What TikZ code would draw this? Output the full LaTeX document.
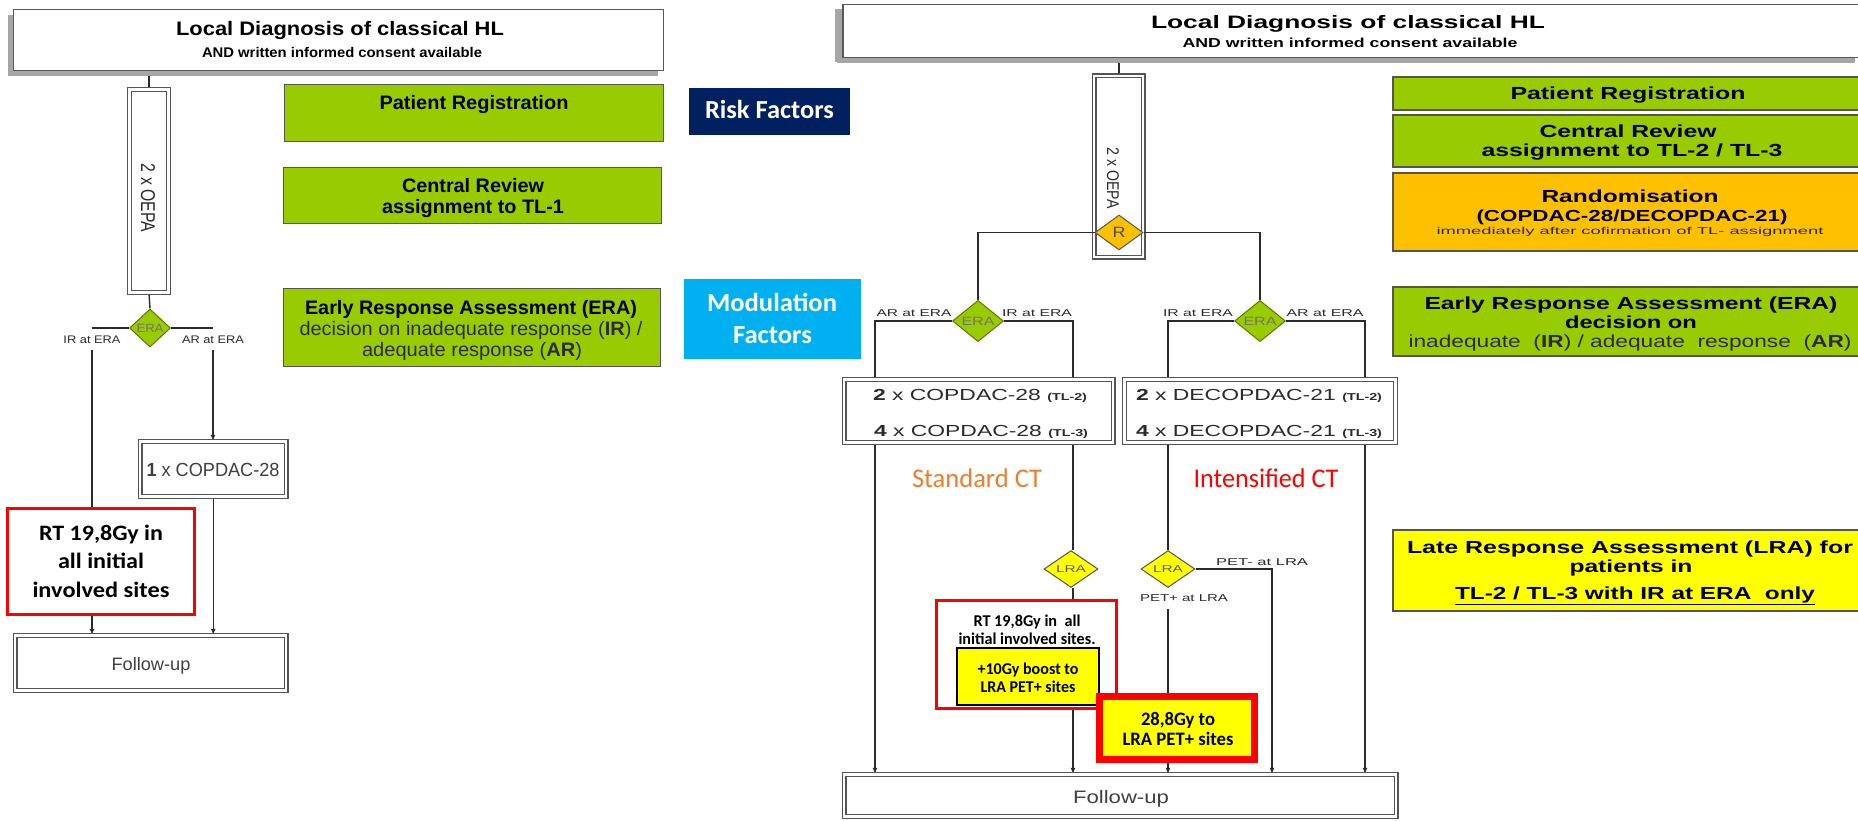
\documentclass[tikz,border=0pt]{standalone}
\usepackage{fontspec}
\setmainfont{Liberation Sans}
\newfontfamily\calib{Carlito}
\usepackage{graphicx}
\usetikzlibrary{shapes.geometric,arrows.meta,shadows}
\pgfdeclarelayer{paper}
\pgfdeclarelayer{background}
\pgfsetlayers{paper,background,main}

\definecolor{leaf}{HTML}{99CC00}
\definecolor{leafdark}{HTML}{5C7A00}
\definecolor{amber}{HTML}{FFC000}
\definecolor{lemon}{HTML}{FFFF00}
\definecolor{navy}{HTML}{002060}
\definecolor{sky}{HTML}{00B0F0}
\definecolor{tang}{HTML}{ED7D31}
\definecolor{ink}{HTML}{2B2B2B}
\definecolor{frame}{HTML}{555555}
\definecolor{softtxt}{HTML}{404040}

% set a line of text and stretch it horizontally to a given width (in pt)
\newsavebox\fitbox
\newcommand\fitw[2]{\sbox\fitbox{#2}\pgfmathsetmacro\fitf{#1/\the\wd\fitbox}\scalebox{\fitf}[1]{\usebox\fitbox}}
\newcommand\fsz[1]{\fontsize{#1}{#1}\selectfont}

\tikzset{
  lbl/.style={inner sep=0pt, anchor=base},
  hdr/.style={draw=gray!70!black, line width=1.6pt, fill=white,
    general shadow={fill=gray!70, shadow xshift=-6pt, shadow yshift=-6pt}},
  grn/.style={draw=frame, line width=1.4pt, fill=leaf, inner sep=0pt},
  ylw/.style={draw=frame, line width=1.4pt, fill=lemon, inner sep=0pt},
  amb/.style={draw=frame, line width=1.4pt, fill=amber, inner sep=0pt},
  dbl/.style={draw=frame, line width=1.3pt, double=white, double distance=2.4pt, fill=white, inner sep=0pt},
  redbox/.style={draw=red, line width=3pt, fill=white, inner sep=0pt},
  flag/.style={inner sep=0pt},
  dia/.style={diamond, inner sep=0pt, line width=1pt},
  ln/.style={draw=ink, line width=1.4pt},
  arr/.style={ln, -{Latex[length=6pt,width=5pt]}},
}

\begin{document}
\begin{tikzpicture}[x=1pt,y=-1pt]
\useasboundingbox (0,0) rectangle (1858,821);
\begin{pgfonlayer}{paper}
  \fill[white] (0,0) rectangle (1858,821);
\end{pgfonlayer}

% ---------------- TL-1 flow (left) ----------------
\node[hdr, minimum width=650pt, minimum height=61pt] (topL) at (338.5,40) {};
\node[lbl] (tHL1) at (340,36) {\fitw{328}{\fsz{19.5}\bfseries Local Diagnosis of classical HL}};
\node[lbl] (tHL2) at (342,58) {\fitw{280}{\fsz{14}\bfseries AND written informed consent available}};

\node[grn, minimum width=379pt, minimum height=57pt] (prL) at (474,113) {};
\node[lbl] (tPRL) at (474,110) {\fitw{189}{\fsz{19.5}\bfseries Patient Registration}};
\node[grn, minimum width=378pt, minimum height=56pt] (crL) at (472.5,195.5) {};
\node[lbl] (tCRL1) at (473,193) {\fitw{142}{\fsz{19.5}\bfseries Central Review}};
\node[lbl] (tCRL2) at (473,214) {\fitw{182}{\fsz{19.5}\bfseries assignment to TL-1}};
\node[grn, minimum width=377pt, minimum height=78pt] (eraLb) at (472,327.5) {};
\node[lbl] (tERL1) at (471,314) {\fitw{332}{\fsz{19.5}\bfseries Early Response Assessment (ERA)}};
\node[lbl, text=ink] (tERL2) at (471,335) {\fitw{343}{\fsz{19.5}decision on inadequate response (\textbf{IR}) /}};
\node[lbl, text=ink] (tERL3) at (472,356) {\fitw{220}{\fsz{19.5}adequate response (\textbf{AR})}};

\node[dbl, minimum width=39pt, minimum height=203pt] (oepaL) at (149,191) {};
\node[inner sep=0pt, rotate=-90, text=ink] (tOL) at (148,198) {\fitw{68}{\fsz{20}2 x OEPA}};

\node[dia, fill=leaf, draw=leafdark, minimum width=41pt, minimum height=38pt] (eraLd) at (150,328)
  {\fitw{27}{\fsz{12}\color{black!55}ERA}};
\node[lbl, text=ink] (irL) at (92,343) {\fitw{57}{\fsz{11}IR at ERA}};
\node[lbl, text=ink] (arL) at (213,343) {\fitw{62}{\fsz{11}AR at ERA}};

\node[dbl, minimum width=146pt, minimum height=55pt] (copL) at (213.25,469) {};
\node[lbl, text=softtxt] (tCopL) at (213,476) {\fitw{133}{\fsz{19}\textbf{1} x COPDAC-28}};

\node[redbox, minimum width=187pt, minimum height=106pt] (rtL) at (101,561.5) {};
\node[lbl] (tRtL1) at (101,540) {\fitw{124}{\calib\fsz{22}\bfseries RT 19,8Gy in}};
\node[lbl] (tRtL2) at (101,568) {\fitw{86}{\calib\fsz{22}\bfseries all initial}};
\node[lbl] (tRtL3) at (101,597) {\fitw{137}{\calib\fsz{22}\bfseries involved sites}};

\node[dbl, minimum width=271pt, minimum height=55pt] (fuL) at (150.75,663) {};
\node[lbl, text=softtxt] (tFuL) at (151,670.5) {\fitw{79}{\fsz{18}Follow-up}};

% ---------------- side flags ----------------
\node[flag, fill=navy, minimum width=161pt, minimum height=47pt] (risk) at (769.5,111.5) {};
\node[lbl, text=white] (tRisk) at (769.5,119) {\fitw{129}{\calib\fsz{26}\bfseries Risk Factors}};
\node[flag, fill=sky, minimum width=177pt, minimum height=80pt] (modul) at (772.5,319) {};
\node[lbl, text=white] (tMod1) at (772,311) {\fitw{130}{\calib\fsz{26}\bfseries Modulation}};
\node[lbl, text=white] (tMod2) at (772.5,343) {\fitw{79}{\calib\fsz{26}\bfseries Factors}};

% ---------------- TL-2 / TL-3 flow (right) ----------------
\node[hdr, minimum width=1018pt, minimum height=53pt, general shadow={fill=gray!70, shadow xshift=-8pt, shadow yshift=-5pt}] (topR) at (1352,31) {};
\node[lbl] (tHR1) at (1348,28.5) {\fitw{394}{\fsz{18}\bfseries Local Diagnosis of classical HL}};
\node[lbl] (tHR2) at (1350,47.5) {\fitw{335}{\fsz{13}\bfseries AND written informed consent available}};

\node[dbl, minimum width=49pt, minimum height=181pt] (oepaR) at (1118.5,166.5) {};
\node[inner sep=0pt, rotate=-90, text=ink] (tOR) at (1113,178) {\fitw{61}{\fsz{17}2 x OEPA}};
\node[dia, fill=amber, draw=frame, minimum width=48pt, minimum height=35pt] (rnd) at (1119,232.5)
  {\fitw{13}{\fsz{15}\color{black!70}R}};

\node[dia, fill=leaf, draw=leafdark, minimum width=51pt, minimum height=32pt] (eraDL) at (978,321)
  {\fitw{33}{\fsz{12}\color{black!55}ERA}};
\node[dia, fill=leaf, draw=leafdark, minimum width=51pt, minimum height=32pt] (eraDR) at (1260,321)
  {\fitw{33}{\fsz{12}\color{black!55}ERA}};
\node[lbl, text=ink] (arA) at (914,316.7) {\fitw{75}{\fsz{10}AR at ERA}};
\node[lbl, text=ink] (irA) at (1037,316.7) {\fitw{70}{\fsz{10}IR at ERA}};
\node[lbl, text=ink] (irB) at (1198,316.7) {\fitw{70}{\fsz{10}IR at ERA}};
\node[lbl, text=ink] (arB) at (1325,316.7) {\fitw{77}{\fsz{10}AR at ERA}};

\node[dbl, minimum width=269pt, minimum height=63pt] (cop) at (978.5,411) {};
\node[lbl, text=ink] (tC1) at (980,400) {\fitw{214}{\fsz{16}\textbf{2} x COPDAC-28 {\fsz{10}\bfseries (TL-2)}}};
\node[lbl, text=ink] (tC2) at (981,436.5) {\fitw{214}{\fsz{16}\textbf{4} x COPDAC-28 {\fsz{10}\bfseries (TL-3)}}};
\node[dbl, minimum width=271pt, minimum height=63pt] (decop) at (1260,411) {};
\node[lbl, text=ink] (tD1) at (1259,400) {\fitw{246}{\fsz{16}\textbf{2} x DECOPDAC-21 {\fsz{10}\bfseries (TL-2)}}};
\node[lbl, text=ink] (tD2) at (1259,436.5) {\fitw{246}{\fsz{16}\textbf{4} x DECOPDAC-21 {\fsz{10}\bfseries (TL-3)}}};

\node[lbl, text=tang] (tStd) at (977,487) {\fitw{130}{\calib\fsz{27}Standard CT}};
\node[lbl, text=red] (tInt) at (1266,487) {\fitw{145}{\calib\fsz{27}Intensified CT}};

\node[dia, fill=lemon, draw=frame, minimum width=54pt, minimum height=29pt] (lraDL) at (1071,569)
  {\fitw{30}{\fsz{10}\color{black!65}LRA}};
\node[dia, fill=lemon, draw=frame, minimum width=54pt, minimum height=29pt] (lraDR) at (1168,569)
  {\fitw{30}{\fsz{10}\color{black!65}LRA}};
\node[lbl, text=ink] (petM) at (1262,565) {\fitw{92}{\fsz{10}PET- at LRA}};
\node[lbl, text=ink] (petP) at (1184,601.5) {\fitw{88}{\fsz{10}PET+ at LRA}};

\node[redbox, minimum width=180pt, minimum height=108pt] (rtR) at (1026.75,654.5) {};
\node[lbl] (tRtR1) at (1027,626) {\fitw{107}{\calib\fsz{16.5}\bfseries RT 19,8Gy in\ \ all}};
\node[lbl] (tRtR2) at (1027,644) {\fitw{137}{\calib\fsz{16.5}\bfseries initial involved sites.}};
\node[draw=black, line width=2pt, fill=lemon, inner sep=0pt, minimum width=142pt, minimum height=57pt] (boost) at (1028,676.5) {};
\node[lbl] (tB1) at (1028,674) {\fitw{101}{\calib\fsz{16.5}\bfseries +10Gy boost to}};
\node[lbl] (tB2) at (1028,692) {\fitw{95}{\calib\fsz{16.5}\bfseries LRA PET+ sites}};

\node[draw=red, line width=7pt, fill=lemon, inner sep=0pt, minimum width=155pt, minimum height=63pt] (big) at (1177,728) {};
\node[lbl] (tG1) at (1178,725) {\fitw{74}{\calib\fsz{19}\bfseries 28,8Gy to}};
\node[lbl] (tG2) at (1178,745) {\fitw{111}{\calib\fsz{19}\bfseries LRA PET+ sites}};

\node[dbl, minimum width=552pt, minimum height=42pt] (fuR) at (1120,795.5) {};
\node[lbl, text=softtxt] (tFuR) at (1121,803.5) {\fitw{96}{\fsz{18}Follow-up}};

% right-hand legend boxes
\node[grn, minimum width=477pt, minimum height=33pt] (prR) at (1631.5,93.5) {};
\node[lbl] (tPRR) at (1628,100) {\fitw{235}{\fsz{17.5}\bfseries Patient Registration}};
\node[grn, minimum width=477pt, minimum height=52pt] (crR) at (1631.5,141) {};
\node[lbl] (tCRR1) at (1628,138) {\fitw{177}{\fsz{17.5}\bfseries Central Review}};
\node[lbl] (tCRR2) at (1632,157) {\fitw{301}{\fsz{17.5}\bfseries assignment to TL-2 / TL-3}};
\node[amb, minimum width=477pt, minimum height=78pt] (randR) at (1631.5,212) {};
\node[lbl] (tRa1) at (1630,203) {\fitw{177}{\fsz{17.5}\bfseries Randomisation}};
\node[lbl] (tRa2) at (1632,222) {\fitw{311}{\fsz{16}\bfseries (COPDAC-28/DECOPDAC-21)}};
\node[lbl, text=ink] (tRa3) at (1630,235) {\fitw{387}{\fsz{10}immediately after cofirmation of TL- assignment}};
\node[grn, minimum width=477pt, minimum height=69pt] (eraRb) at (1631.5,321.5) {};
\node[lbl] (tERR1) at (1631,309) {\fitw{413}{\fsz{17.5}\bfseries Early Response Assessment (ERA)}};
\node[lbl] (tERR2) at (1631,328) {\fitw{132}{\fsz{17.5}\bfseries decision on}};
\node[lbl, text=ink] (tERR3) at (1630,347) {\fitw{443}{\fsz{17.5}inadequate\ \ (\textbf{IR}) / adequate\ \ response\ \ (\textbf{AR})}};
\node[ylw, minimum width=477pt, minimum height=81pt] (lraB) at (1631.5,570.5) {};
\node[lbl] (tLR1) at (1630,553) {\fitw{446}{\fsz{17.5}\bfseries Late Response Assessment (LRA) for}};
\node[lbl] (tLR2) at (1631,572) {\fitw{123}{\fsz{17.5}\bfseries patients in}};
\node[lbl] (tLR3) at (1635,599) {\fitw{360}{\fsz{17.5}\bfseries \underline{TL-2 / TL-3\ with IR at ERA\ \ only}}};

% column positions of the vertical connectors
\coordinate (colA) at (875,0);
\coordinate (colB) at (1073,0);
\coordinate (colC) at (1168,0);
\coordinate (colD) at (1365,0);
\coordinate (colF) at (1272,0);

% ---------------- connectors ----------------
\begin{pgfonlayer}{background}
  % left flow
  \draw[ln] (topL.south -| oepaL) -- (oepaL.north);
  \draw[ln] (oepaL.south) -- (eraLd.north);
  \draw[ln] (eraLd.west) -- (eraLd.west -| irL);
  \draw[ln] (eraLd.east) -- (eraLd.east -| arL);
  \draw[arr, shorten <=7pt] (irL.south) -- (irL.south |- fuL.north);
  \draw[arr, shorten <=7pt] (arL.south) -- (arL.south |- copL.north);
  \draw[arr] (copL.south) -- (copL.south |- fuL.north);
  % right flow
  \draw[ln] (topR.south -| rnd) -- (oepaR.north -| rnd);
  \draw[ln] (eraDL.west) -| (cop.north -| colA);
  \draw[ln] (eraDL.east) -| (cop.north -| colB);
  \draw[ln] (eraDR.west) -| (decop.north -| colC);
  \draw[ln] (eraDR.east) -| (decop.north -| colD);
  \draw[arr] (cop.south -| colA) -- (fuR.north -| colA);
  \draw[ln] (cop.south -| colB) -- (lraDL.north -| colB);
  \draw[arr] (lraDL.south -| colB) -- (fuR.north -| colB);
  \draw[ln] (decop.south -| colC) -- (lraDR.north);
  \draw[arr] (lraDR.east) -| (fuR.north -| colF);
  \draw[arr] (petP.south -| colC) ++(0,7) -- (fuR.north -| colC);
  \draw[arr] (decop.south -| colD) -- (fuR.north -| colD);
\end{pgfonlayer}
% randomisation split crosses the OEPA frame
\draw[ln] (rnd.west) -| (eraDL.north);
\draw[ln] (rnd.east) -| (eraDR.north);
\end{tikzpicture}
\end{document}
